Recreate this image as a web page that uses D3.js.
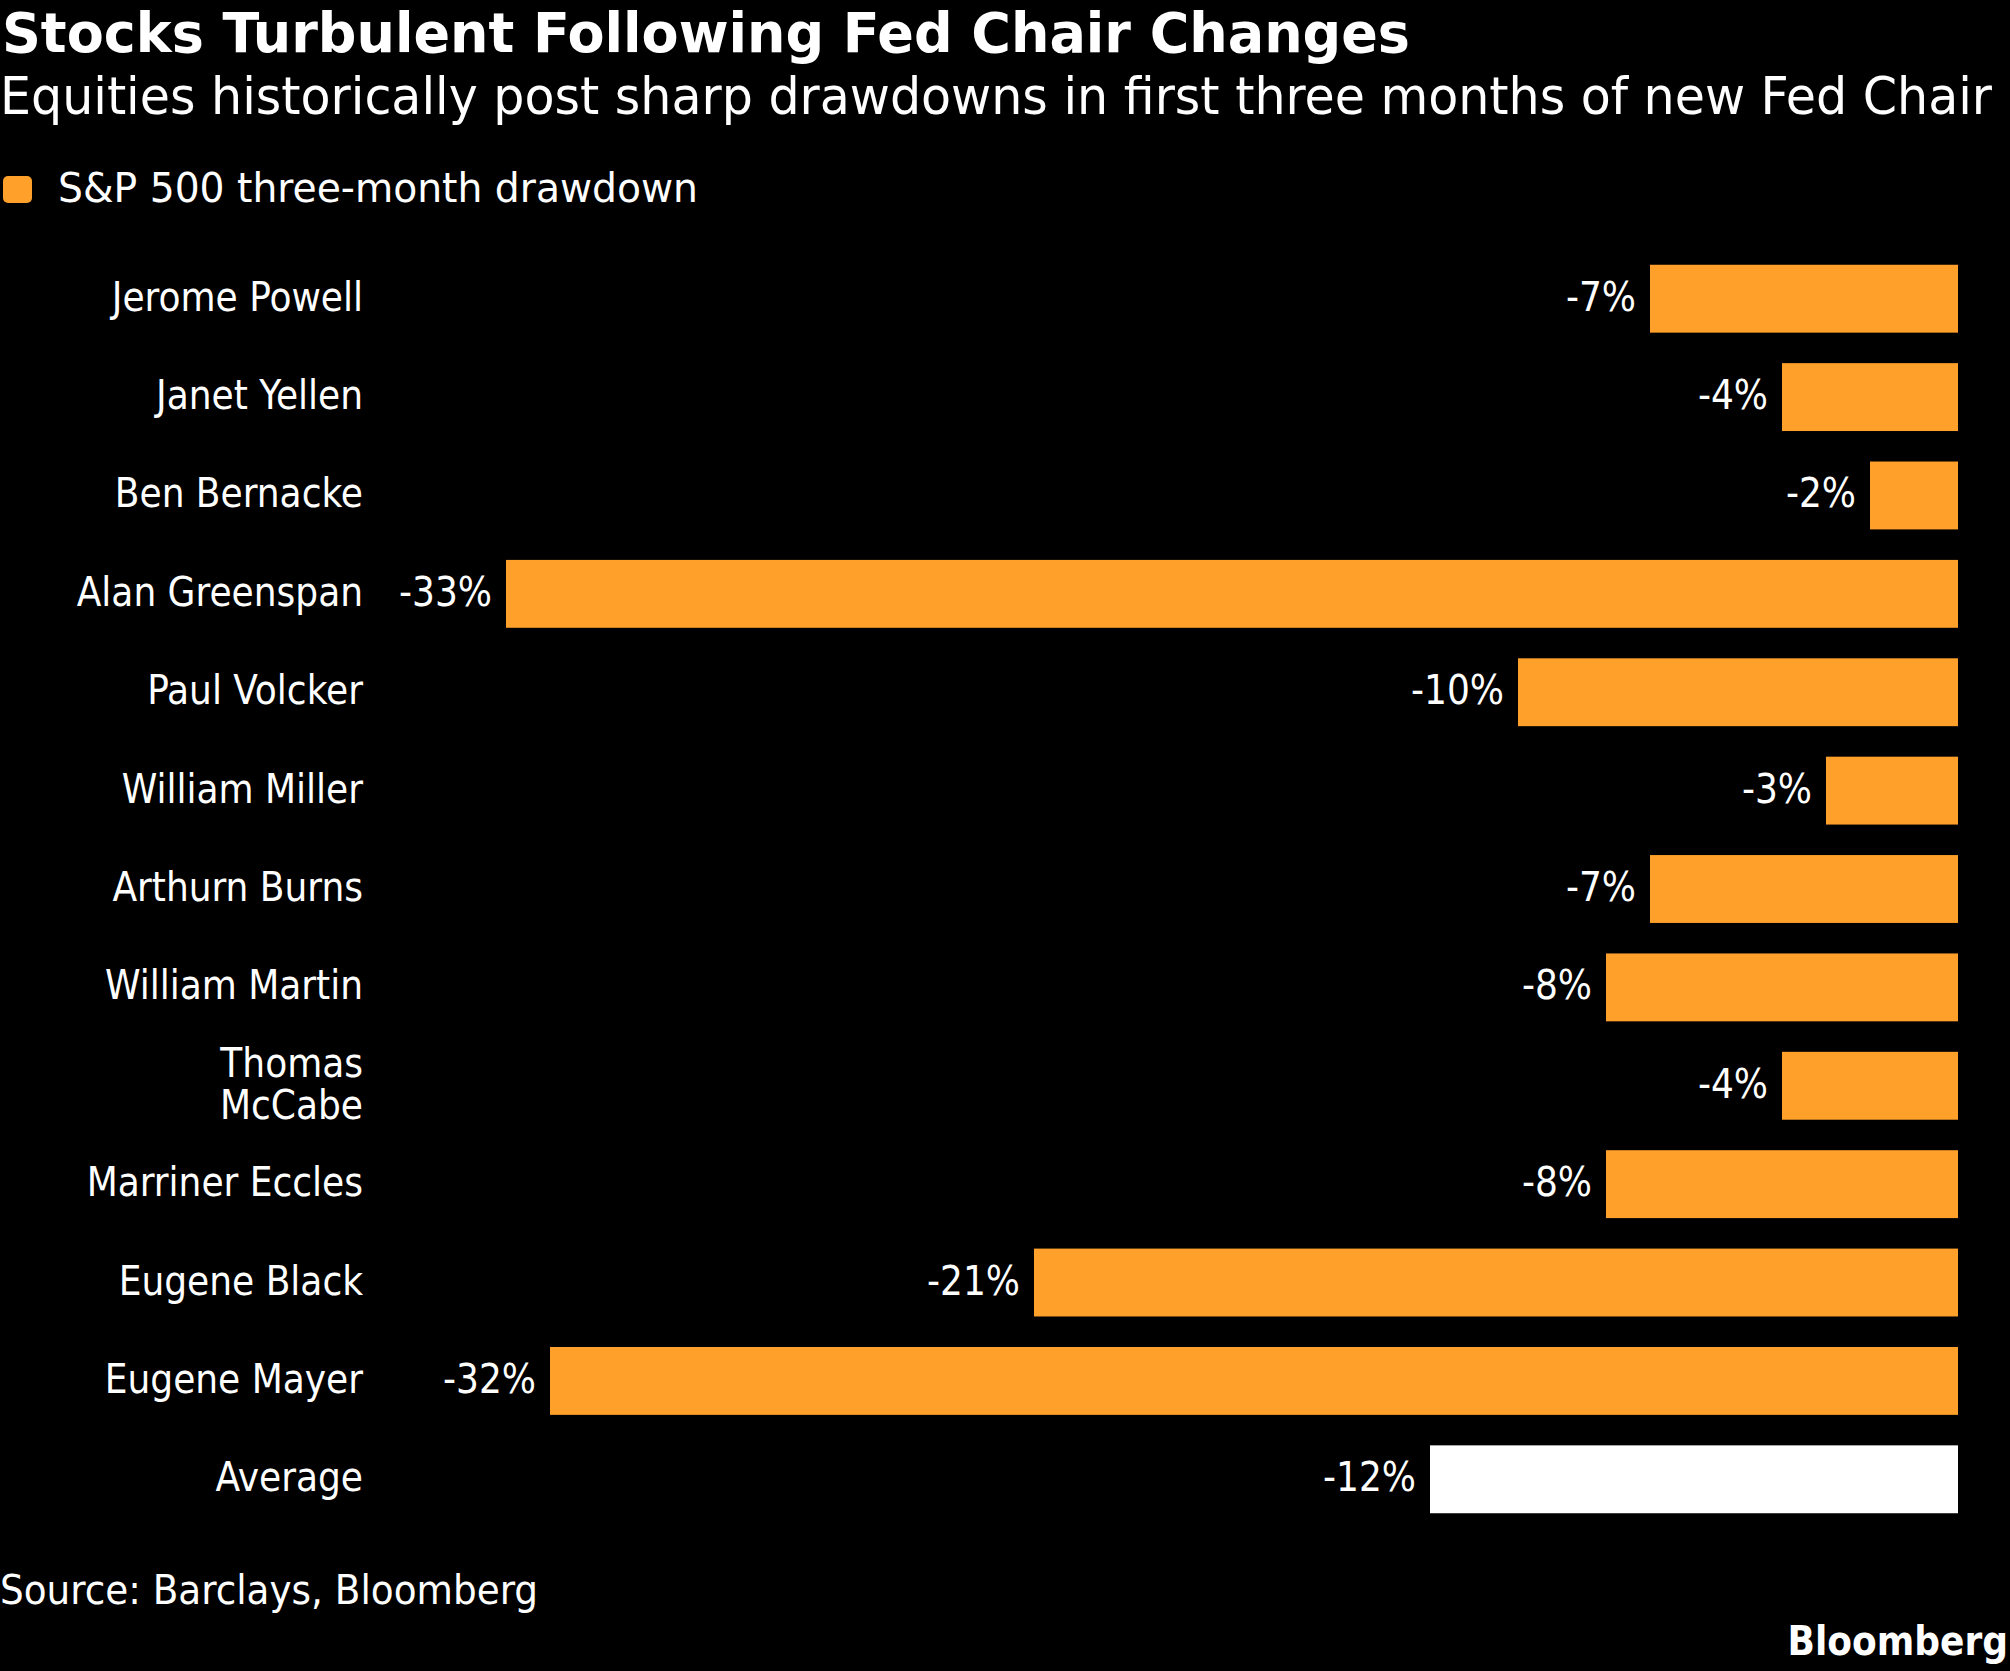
<!DOCTYPE html>
<html><head><meta charset="utf-8">
<script src="https://cdn.jsdelivr.net/npm/d3@7"></script>
<style>body{margin:0;background:#000;}text{font-family:"DejaVu Sans Condensed","DejaVu Sans",sans-serif;font-stretch:condensed;}</style>
</head><body>
<svg id="c" width="2010" height="1671"></svg>
<script>
const names = ["Jerome Powell","Janet Yellen","Ben Bernacke","Alan Greenspan","Paul Volcker","William Miller","Arthurn Burns","William Martin","Thomas\nMcCabe","Marriner Eccles","Eugene Black","Eugene Mayer","Average"];
const values = [-7,-4,-2,-33,-10,-3,-7,-8,-4,-8,-21,-32,-12];
const orange = "#ffa02a";
const svg = d3.select("#c");
svg.append("rect").attr("width",2010).attr("height",1671).attr("fill","#000");
const x = d3.scaleLinear().domain([-33,0]).range([506,1958]);
const y = d3.scaleBand().domain(d3.range(names.length)).range([250,1528]).paddingInner(0.31).paddingOuter(0.15);
svg.append("text").attr("x",2).attr("y",52).attr("fill","#fff").attr("font-size",55).attr("font-weight","bold")
  .attr("textLength",1408).attr("lengthAdjust","spacingAndGlyphs").text("Stocks Turbulent Following Fed Chair Changes");
svg.append("text").attr("x",0).attr("y",114).attr("fill","#fff").attr("font-size",51)
  .attr("textLength",1992).attr("lengthAdjust","spacingAndGlyphs").text("Equities historically post sharp drawdowns in first three months of new Fed Chair");
svg.append("rect").attr("x",3).attr("y",176).attr("width",29).attr("height",27).attr("rx",5).attr("fill",orange);
svg.append("text").attr("x",58).attr("y",202).attr("fill","#fff").attr("font-size",41)
  .attr("textLength",640).attr("lengthAdjust","spacingAndGlyphs").text("S&P 500 three-month drawdown");
const g = svg.append("g");
names.forEach((n,i)=>{
  const cy = y(i)+y.bandwidth()/2;
  g.append("rect").attr("x",x(values[i])).attr("y",y(i)).attr("width",x(0)-x(values[i])).attr("height",y.bandwidth())
    .attr("fill", n==="Average"?"#fff":orange);
  const lines = n.split("\n");
  const t = g.append("text").attr("x",363).attr("text-anchor","end").attr("fill","#fff").attr("font-size",40);
  lines.forEach((l,k)=>t.append("tspan").attr("x",363).attr("y",cy+12+(k-(lines.length-1)/2)*42).text(l));
  g.append("text").attr("x",x(values[i])-14).attr("y",cy+12).attr("text-anchor","end").attr("fill","#fff").attr("font-size",40).text(values[i]+"%");
});
svg.append("text").attr("x",0).attr("y",1604).attr("fill","#fff").attr("font-size",41)
  .attr("textLength",538).attr("lengthAdjust","spacingAndGlyphs").text("Source: Barclays, Bloomberg");
svg.append("text").attr("x",2008).attr("y",1655).attr("text-anchor","end").attr("fill","#fff").attr("font-size",40).attr("font-weight","bold").text("Bloomberg");
</script>
</body></html>
